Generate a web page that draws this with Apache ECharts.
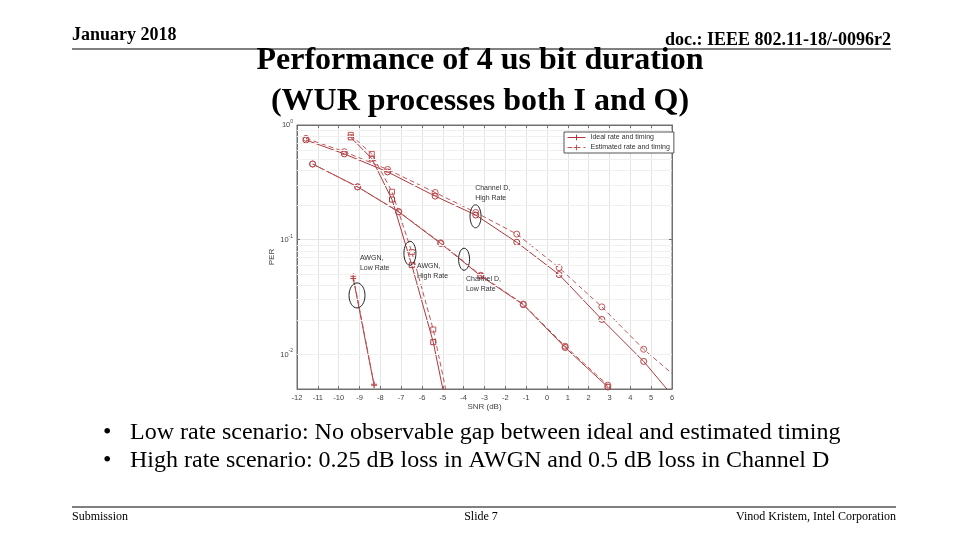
<!DOCTYPE html>
<html>
<head>
<meta charset="utf-8">
<script src="https://cdn.jsdelivr.net/npm/echarts@6/dist/echarts.min.js"></script>
<style>html,body{margin:0;padding:0;background:#fff;}#c{width:960px;height:540px;}</style>
</head>
<body>
<div id="c"></div>
<script>
// ---- data ----
const xTicks = [-12,-11,-10,-9,-8,-7,-6,-5,-4,-3,-2,-1,0,1,2,3,4,5,6];
const yDecades = [0.01, 0.1, 1];
const yMinor = [0.006,0.007,0.008,0.009,0.02,0.03,0.04,0.05,0.06,0.07,0.08,0.09,0.2,0.3,0.4,0.5,0.6,0.7,0.8,0.9];

const snrAwgnLow = [-9.3, -8.3];
const perAwgnLowIdeal = [0.046, 0.0054];
const perAwgnLowEst = [0.048, 0.0055];

const snrAwgnHigh = [-9.42, -8.41, -7.44, -6.49, -5.46, -4.5];
const perAwgnHighIdeal = [0.78, 0.51, 0.224, 0.060, 0.0128, 0.0018];
const perAwgnHighEst = [0.82, 0.56, 0.262, 0.078, 0.0165, 0.0024];

const snrChDHigh = [-11.57, -9.73, -7.65, -5.37, -3.42, -1.45, 0.58, 2.63, 4.64, 6.65];
const perChDHighIdeal = [0.74, 0.56, 0.39, 0.24, 0.164, 0.095, 0.0497, 0.0202, 0.0087, 0.0032];
const perChDHighEst = [0.765, 0.585, 0.41, 0.258, 0.173, 0.112, 0.057, 0.026, 0.0111, 0.0054];

const snrChDLow = [-11.25, -9.09, -7.12, -5.10, -3.18, -1.14, 0.87, 2.92];
const perChDLowIdeal = [0.457, 0.289, 0.175, 0.0927, 0.0483, 0.0272, 0.0115, 0.0052];
const perChDLowEst = [0.457, 0.289, 0.176, 0.094, 0.049, 0.0275, 0.0118, 0.0054];

const annLabels = [
  {text: 'Channel D,\nHigh Rate', x: -3.45, y: 0.282},
  {text: 'AWGN,\nLow Rate', x: -8.98, y: 0.069},
  {text: 'AWGN,\nHigh Rate', x: -6.24, y: 0.0587},
  {text: 'Channel D,\nLow Rate', x: -3.89, y: 0.0452}
];
const annEllipses = [
  {x: -3.43, y: 0.160, rx: 5.5, ry: 11.5},
  {x: -6.58, y: 0.0762, rx: 6, ry: 12},
  {x: -3.98, y: 0.0676, rx: 5.5, ry: 11},
  {x: -9.12, y: 0.0327, rx: 8, ry: 12.5}
];

const IDEAL = 'Ideal rate and timing';
const EST = 'Estimated rate and timing';
const cIdeal = '#b0383c';
const cEst = '#c0565a';
const plusSym = 'path://M0,5L10,5M5,0L5,10';

function pairs(xs, ys){ return xs.map((x,i)=>[x, ys[i]]); }

function mk(name, xs, ys, symbol, dashed, size){
  const col = dashed ? cEst : cIdeal;
  return {
    name: name, type: 'line', data: pairs(xs, ys),
    symbol: symbol, symbolSize: size || 6, showSymbol: true,
    lineStyle: {color: col, width: 1, type: dashed ? [5,3] : 'solid'},
    itemStyle: {color: symbol === plusSym ? col : 'rgba(255,255,255,0)', borderColor: col, borderWidth: 1},
    emphasis: {disabled: true}, z: 3
  };
}

const chart = echarts.init(document.getElementById('c'));
const serif = '"Liberation Serif", "Times New Roman", serif';
const sans = '"Liberation Sans", Arial, sans-serif';

const minorLines = yMinor.map(v => ({yAxis: v}));
const axisCol = '#707070';

const option = {
  backgroundColor: '#fff',
  animation: false,
  grid: {left: 297, right: 288, top: 125, bottom: 151, show: true, borderColor: axisCol, borderWidth: 1, backgroundColor: '#fff'},
  legend: {
    data: [IDEAL, EST],
    orient: 'vertical', left: 564, top: 132, itemWidth: 18, itemHeight: 7, itemGap: 3,
    padding: [2, 4, 2, 3], z: 20,
    lineStyle: {width: 1},
    itemStyle: {borderWidth: 1},
    backgroundColor: '#fff', borderColor: '#555', borderWidth: 1,
    textStyle: {fontFamily: sans, fontSize: 7, color: '#333'},
    selectedMode: false
  },
  xAxis: [{
    type: 'value', min: -12, max: 6, interval: 1,
    name: 'SNR (dB)', nameLocation: 'middle', nameGap: 14,
    nameTextStyle: {fontFamily: sans, fontSize: 8, color: '#444'},
    axisLine: {onZero: false, lineStyle: {color: axisCol}},
    axisTick: {inside: true, length: 3, lineStyle: {color: axisCol}},
    axisLabel: {fontFamily: sans, fontSize: 7.5, color: '#444', margin: 5},
    splitLine: {lineStyle: {color: '#e4e4e4'}}
  }, {
    type: 'value', min: -12, max: 6, interval: 1, position: 'top',
    axisLine: {onZero: false, lineStyle: {color: axisCol}},
    axisTick: {inside: true, length: 3, lineStyle: {color: axisCol}},
    axisLabel: {show: false}, splitLine: {show: false}
  }],
  yAxis: [{
    type: 'log', logBase: 10, min: 0.005, max: 1,
    name: 'PER', nameLocation: 'middle', nameGap: 21, nameRotate: 90,
    nameTextStyle: {fontFamily: sans, fontSize: 8, color: '#444'},
    axisLine: {onZero: false, lineStyle: {color: axisCol}},
    axisTick: {inside: true, length: 3, lineStyle: {color: axisCol}},
    axisLabel: {
      margin: 4,
      formatter: function(v){
        const e = Math.log10(v);
        if (Math.abs(e - Math.round(e)) > 1e-6) return '';
        return '{b|10}{s|' + Math.round(e) + '}';
      },
      rich: {
        b: {fontFamily: sans, fontSize: 7.5, color: '#444'},
        s: {fontFamily: sans, fontSize: 5, color: '#444', padding: [0, 0, 7, 0]}
      }
    },
    splitLine: {lineStyle: {color: '#e4e4e4'}}
  }, {
    type: 'log', logBase: 10, min: 0.005, max: 1, position: 'right',
    axisLine: {onZero: false, lineStyle: {color: axisCol}},
    axisTick: {inside: true, length: 3, lineStyle: {color: axisCol}},
    axisLabel: {show: false}, splitLine: {show: false}
  }],
  series: [
    {
      type: 'line', data: [], silent: true, xAxisIndex: 0, yAxisIndex: 0,
      markLine: {silent: true, symbol: 'none', label: {show: false},
        lineStyle: {color: '#f0f0f0', type: 'solid', width: 1}, data: minorLines}
    },
    mk(IDEAL, snrAwgnLow, perAwgnLowIdeal, plusSym, false, 6),
    mk(EST, snrAwgnLow, perAwgnLowEst, plusSym, true, 6),
    mk(IDEAL, snrAwgnHigh, perAwgnHighIdeal, 'rect', false, 5),
    mk(EST, snrAwgnHigh, perAwgnHighEst, 'rect', true, 5),
    mk(IDEAL, snrChDHigh, perChDHighIdeal, 'circle', false, 6),
    mk(EST, snrChDHigh, perChDHighEst, 'circle', true, 6),
    mk(IDEAL, snrChDLow, perChDLowIdeal, 'circle', false, 6),
    mk(EST, snrChDLow, perChDLowEst, 'circle', true, 6)
  ],
  graphic: [
    {type: 'text', x: 72, y: 35, style: {text: 'January 2018', font: 'bold 18px ' + serif, fill: '#000', textVerticalAlign: 'middle'}},
    {type: 'text', x: 891, y: 40, style: {text: 'doc.: IEEE 802.11-18/-0096r2', font: 'bold 18px ' + serif, fill: '#000', textAlign: 'right', textVerticalAlign: 'middle'}},
    {type: 'line', shape: {x1: 72, y1: 49, x2: 891, y2: 49}, style: {stroke: '#000', lineWidth: 1}},
    {type: 'text', x: 480, y: 61, style: {text: 'Performance of 4 us bit duration', font: 'bold 32px ' + serif, fill: '#000', textAlign: 'center', textVerticalAlign: 'middle'}},
    {type: 'text', x: 480, y: 102, style: {text: '(WUR processes both I and Q)', font: 'bold 32px ' + serif, fill: '#000', textAlign: 'center', textVerticalAlign: 'middle'}},
    {type: 'text', x: 103, y: 433, style: {text: '\u2022', font: '24px ' + serif, fill: '#000', textVerticalAlign: 'middle'}},
    {type: 'text', x: 130, y: 433, style: {text: 'Low rate scenario: No observable gap between ideal and estimated timing', font: '24px ' + serif, fill: '#000', textVerticalAlign: 'middle'}},
    {type: 'text', x: 103, y: 461, style: {text: '\u2022', font: '24px ' + serif, fill: '#000', textVerticalAlign: 'middle'}},
    {type: 'text', x: 130, y: 461, style: {text: 'High rate scenario: 0.25 dB loss in AWGN and 0.5 dB loss in Channel D', font: '24px ' + serif, fill: '#000', textVerticalAlign: 'middle'}},
    {type: 'line', shape: {x1: 72, y1: 507, x2: 896, y2: 507}, style: {stroke: '#000', lineWidth: 1}},
    {type: 'text', x: 72, y: 517, style: {text: 'Submission', font: '12px ' + serif, fill: '#000', textVerticalAlign: 'middle'}},
    {type: 'text', x: 481, y: 517, style: {text: 'Slide 7', font: '12px ' + serif, fill: '#000', textAlign: 'center', textVerticalAlign: 'middle'}},
    {type: 'text', x: 896, y: 517, style: {text: 'Vinod Kristem, Intel Corporation', font: '12px ' + serif, fill: '#000', textAlign: 'right', textVerticalAlign: 'middle'}}
  ]
};
chart.setOption(option);

// annotations positioned through the chart's own scales
const extra = [];
annEllipses.forEach(e => {
  const p = chart.convertToPixel({xAxisIndex: 0, yAxisIndex: 0}, [e.x, e.y]);
  extra.push({type: 'ellipse', shape: {cx: p[0], cy: p[1], rx: e.rx, ry: e.ry}, style: {fill: 'none', stroke: '#222', lineWidth: 1}, z: 10});
});
annLabels.forEach(a => {
  const p = chart.convertToPixel({xAxisIndex: 0, yAxisIndex: 0}, [a.x, a.y]);
  extra.push({type: 'text', x: p[0], y: p[1] - 5, style: {text: a.text, font: '7px ' + sans, fill: '#333', lineHeight: 10}, z: 10});
});
chart.setOption({graphic: option.graphic.concat(extra)});
</script>
</body>
</html>
